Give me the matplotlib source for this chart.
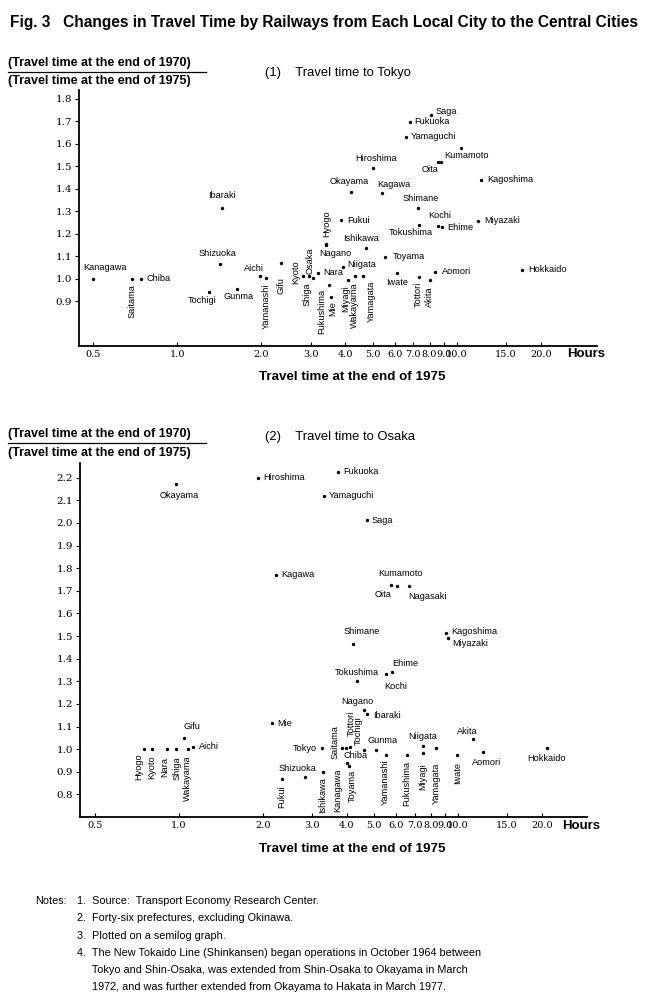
import matplotlib
matplotlib.use('Agg')
import matplotlib.pyplot as plt
from matplotlib.lines import Line2D

plt.rcParams['font.family'] = ['Liberation Sans', 'DejaVu Sans']

W, H = 650, 1002

# ===== data: (1) travel time to Tokyo =====
tokyo_names = ['Kanagawa', 'Saitama', 'Chiba', 'Ibaraki', 'Shizuoka', 'Tochigi', 'Gunma',
               'Aichi', 'Yamanashi', 'Gifu', 'Kyoto', 'Shiga', 'Osaka', 'Nara', 'Fukushima',
               'Hyogo', 'Nagano', 'Mie', 'Niigata', 'Miyagi', 'Wakayama', 'Fukui', 'Ishikawa',
               'Yamagata', 'Toyama', 'Iwate', 'Tottori', 'Akita', 'Aomori', 'Tokushima',
               'Kochi', 'Ehime', 'Shimane', 'Miyazaki', 'Hokkaido', 'Saga', 'Fukuoka',
               'Yamaguchi', 'Kumamoto', 'Oita', 'Nagasaki', 'Kagoshima', 'Kagawa',
               'Hiroshima', 'Okayama']
tokyo_hours = [0.50, 0.69, 0.74, 1.45, 1.42, 1.30, 1.63,
               1.97, 2.08, 2.36, 2.83, 2.97, 3.05, 3.20, 3.50,
               3.42, 3.42, 3.56, 3.93, 4.10, 4.31, 3.87, 4.72,
               4.64, 5.56, 6.10, 7.36, 8.00, 8.40, 7.36,
               8.60, 8.83, 7.30, 11.96, 17.2, 8.07, 6.83,
               6.60, 10.4, 8.60, 8.80, 12.2, 5.42,
               5.04, 4.20]
tokyo_ratio = [1.00, 1.00, 1.00, 1.315, 1.067, 0.94, 0.955,
               1.01, 1.005, 1.07, 1.01, 1.01, 1.005, 1.027, 0.97,
               1.155, 1.15, 0.916, 1.053, 0.996, 1.013, 1.26, 1.138,
               1.013, 1.098, 1.027, 1.009, 0.996, 1.031, 1.24,
               1.236, 1.23, 1.315, 1.258, 1.04, 1.729, 1.698,
               1.631, 1.582, 1.52, 1.52, 1.44, 1.382,
               1.493, 1.387]

# ===== data: (2) travel time to Osaka =====
osaka_names = ['Okayama', 'Hiroshima', 'Kagawa', 'Yamaguchi', 'Fukuoka', 'Saga', 'Oita',
               'Kumamoto', 'Nagasaki', 'Kagoshima', 'Miyazaki', 'Shimane', 'Tokushima',
               'Kochi', 'Ehime', 'Nagano', 'Ibaraki', 'Mie', 'Tokyo', 'Saitama', 'Chiba',
               'Tottori', 'Tochigi', 'Kanagawa', 'Toyama', 'Gunma', 'Yamanashi', 'Fukushima',
               'Niigata', 'Miyagi', 'Yamagata', 'Ishikawa', 'Shizuoka', 'Fukui', 'Iwate',
               'Akita', 'Aomori', 'Hokkaido', 'Hyogo', 'Kyoto', 'Nara', 'Shiga', 'Wakayama',
               'Aichi', 'Gifu']
osaka_hours = [0.975, 1.92, 2.23, 3.31, 3.71, 4.72, 5.75,
               6.04, 6.68, 9.06, 9.20, 4.20, 4.35,
               5.52, 5.80, 4.60, 4.72, 2.15, 3.25, 3.85, 3.97,
               4.10, 4.60, 4.00, 4.08, 5.09, 5.52, 6.56,
               7.50, 7.50, 8.35, 3.28, 2.83, 2.34, 9.95,
               11.3, 12.3, 20.8, 0.75, 0.80, 0.906, 0.975, 1.077,
               1.12, 1.04]
osaka_ratio = [2.17, 2.20, 1.77, 2.12, 2.226, 2.013, 1.726,
               1.72, 1.72, 1.513, 1.49, 1.465, 1.30,
               1.33, 1.34, 1.173, 1.155, 1.115, 1.004, 1.004, 1.006,
               1.01, 0.996, 0.938, 0.925, 0.996, 0.973, 0.973,
               1.013, 0.982, 1.004, 0.898, 0.876, 0.87, 0.973,
               1.044, 0.987, 1.004, 1.0, 1.0, 1.0, 1.0, 1.0,
               1.01, 1.05]

x_ticks = [0.5, 1.0, 2.0, 3.0, 4.0, 5.0, 6.0, 7.0, 8.0, 9.0, 10.0, 15.0, 20.0]
y_ticks_tokyo = [0.9, 1.0, 1.1, 1.2, 1.3, 1.4, 1.5, 1.6, 1.7, 1.8]
y_ticks_osaka = [0.8, 0.9, 1.0, 1.1, 1.2, 1.3, 1.4, 1.5, 1.6, 1.7, 1.8, 1.9, 2.0, 2.1, 2.2]

# label placement: name -> (dx px, dy px, ha, va, rotation)
R = 'right'; L = 'left'; C = 'center'; T = 'top'; B = 'bottom'
tokyo_lab = {
    'Kanagawa': (12, 11, C, C, 0), 'Saitama': (0, -5, C, T, 90), 'Chiba': (6, 0, L, C, 0),
    'Ibaraki': (0, 12, C, C, 0), 'Shizuoka': (-2, 10, C, C, 0), 'Tochigi': (-7, -8, C, C, 0),
    'Gunma': (2, -8, C, C, 0), 'Aichi': (-6, 8, C, C, 0), 'Yamanashi': (0, -6, C, T, 90),
    'Gifu': (0, -14, C, T, 90), 'Kyoto': (-8, 4, C, C, 90), 'Shiga': (-2, -6, C, T, 90),
    'Osaka': (-2, 4, C, B, 90), 'Nara': (5, 0, L, C, 0), 'Fukushima': (-7, -4, C, T, 90),
    'Hyogo': (0, 7, C, B, 90), 'Nagano': (9, -9, C, C, 0), 'Mie': (1, -4, C, T, 90),
    'Niigata': (4, 2, L, C, 0), 'Miyagi': (-3, -6, C, T, 90), 'Wakayama': (0, -7, C, T, 90),
    'Fukui': (6, 0, L, C, 0), 'Ishikawa': (-4, 9, C, C, 0), 'Yamagata': (8, -5, C, T, 90),
    'Toyama': (7, 0, L, C, 0), 'Iwate': (0, -10, C, C, 0), 'Tottori': (-1, -5, C, T, 90),
    'Akita': (0, -7, C, T, 90), 'Aomori': (7, 0, L, C, 0), 'Tokushima': (-9, -8, C, C, 0),
    'Kochi': (1, 10, C, C, 0), 'Ehime': (6, -1, L, C, 0), 'Shimane': (2, 9, C, C, 0),
    'Miyazaki': (6, 0, L, C, 0), 'Hokkaido': (6, 0, L, C, 0), 'Saga': (5, 3, L, C, 0),
    'Fukuoka': (4, 0, L, C, 0), 'Yamaguchi': (5, 0, L, C, 0), 'Kumamoto': (5, -8, C, C, 0),
    'Oita': (-8, -8, C, C, 0), 'Kagoshima': (6, 0, L, C, 0), 'Kagawa': (12, 8, C, C, 0),
    'Hiroshima': (3, 9, C, C, 0), 'Okayama': (-2, 10, C, C, 0),
}
osaka_lab = {
    'Okayama': (3, -11, C, C, 0), 'Hiroshima': (5, 0, L, C, 0), 'Kagawa': (5, 0, L, C, 0),
    'Yamaguchi': (5, 0, L, C, 0), 'Fukuoka': (5, 0, L, C, 0), 'Saga': (5, 0, L, C, 0),
    'Oita': (-8, -10, C, C, 0), 'Kumamoto': (4, 13, C, C, 0), 'Nagasaki': (18, -10, C, C, 0),
    'Kagoshima': (5, 2, L, C, 0), 'Miyazaki': (4, -5, L, C, 0), 'Shimane': (9, 12, C, C, 0),
    'Tokushima': (0, 9, C, C, 0), 'Kochi': (10, -12, C, C, 0), 'Ehime': (13, 9, C, C, 0),
    'Nagano': (-6, 9, C, C, 0), 'Ibaraki': (6, -1, L, C, 0), 'Mie': (6, 0, L, C, 0),
    'Tokyo': (-5, 0, R, C, 0), 'Saitama': (-7, 6, C, C, 90), 'Chiba': (10, -8, C, C, 0),
    'Tottori': (1, 11, C, B, 90), 'Tochigi': (-6, 5, C, B, 90), 'Kanagawa': (-9, -5, C, T, 90),
    'Toyama': (3, -4, C, T, 90), 'Gunma': (6, 10, C, C, 0), 'Yamanashi': (-1, -4, C, T, 90),
    'Fukushima': (0, -6, C, T, 90), 'Niigata': (0, 10, C, C, 0), 'Miyagi': (0, -10, C, T, 90),
    'Yamagata': (0, -14, C, T, 90), 'Ishikawa': (0, -5, C, T, 90), 'Shizuoka': (-8, 9, C, C, 0),
    'Fukui': (0, -7, C, T, 90), 'Iwate': (0, -7, C, T, 90), 'Akita': (-5, 8, C, C, 0),
    'Aomori': (4, -10, C, C, 0), 'Hokkaido': (0, -10, C, C, 0), 'Hyogo': (-5, -4, C, T, 90),
    'Kyoto': (0, -6, C, T, 90), 'Nara': (-2, -8, C, T, 90), 'Shiga': (1, -7, C, T, 90),
    'Wakayama': (0, -6, C, T, 90), 'Aichi': (6, 0, L, C, 0), 'Gifu': (8, 11, C, C, 0),
}

fig = plt.figure(figsize=(W / 100, H / 100), dpi=100)
fig.patch.set_facecolor('white')


def px(x, y):
    return x / W, 1 - y / H


def frac_label(y1, yline, y2):
    fig.text(*px(8, y1), '(Travel time at the end of 1970)', fontsize=9, fontweight='bold',
             ha='left', va='center')
    fig.add_artist(Line2D([8 / W, 206 / W], [1 - yline / H] * 2, color='black', lw=0.9))
    fig.text(*px(8, y2), '(Travel time at the end of 1975)', fontsize=9, fontweight='bold',
             ha='left', va='center')


def draw_panel(rect, hours, ratio, names, lab, yticks, ylim, xlim):
    ax = fig.add_axes(rect)
    ax.set_xscale('log')
    ax.scatter(hours, ratio, s=6, color='black', zorder=3, linewidths=0)
    for n, h, r in zip(names, hours, ratio):
        if n not in lab:
            continue
        dx, dy, ha, va, rot = lab[n]
        ax.annotate(n, (h, r), xytext=(dx, dy), textcoords='offset pixels',
                    ha=ha, va=va, rotation=rot, fontsize=6.6)
    ax.set_xlim(*xlim)
    ax.set_ylim(*ylim)
    ax.set_xticks(x_ticks)
    ax.set_xticklabels([f'{t:.1f}' for t in x_ticks], family='DejaVu Serif', fontsize=7.0)
    ax.xaxis.set_minor_locator(matplotlib.ticker.NullLocator())
    ax.set_yticks(yticks)
    ax.set_yticklabels([f'{t:.1f}' for t in yticks], family='DejaVu Serif', fontsize=7.5)
    ax.tick_params(axis='x', direction='in', length=3, width=0.8, pad=3)
    ax.tick_params(axis='y', direction='out', length=3, width=0.8, pad=2)
    for s in ['top', 'right']:
        ax.spines[s].set_visible(False)
    for s in ['left', 'bottom']:
        ax.spines[s].set_linewidth(1.3)
    ax.set_facecolor('none')
    return ax


fig.text(*px(324, 22), 'Fig. 3   Changes in Travel Time by Railways from Each Local City to the Central Cities',
         fontsize=11.2, fontweight='bold', ha='center', va='center')

# ----- panel (1) -----
frac_label(63, 72, 81)
fig.text(*px(265, 73), '(1)    Travel time to Tokyo', fontsize=9.4, ha='left', va='center')
draw_panel([79 / W, 1 - 346 / H, (597 - 79) / W, (346 - 90) / H],
           tokyo_hours, tokyo_ratio, tokyo_names, tokyo_lab, y_ticks_tokyo,
           (0.70, 1.84), (0.445, 31.8))
fig.text(*px(567, 354), 'Hours', fontsize=9.5, fontweight='bold', ha='left', va='center')
fig.text(*px(352, 377), 'Travel time at the end of 1975', fontsize=9.6, fontweight='bold',
         ha='center', va='center')

# ----- panel (2) -----
frac_label(434, 443, 453)
fig.text(*px(265, 437), '(2)    Travel time to Osaka', fontsize=9.4, ha='left', va='center')
draw_panel([80 / W, 1 - 817 / H, (587 - 80) / W, (817 - 463) / H],
           osaka_hours, osaka_ratio, osaka_names, osaka_lab, y_ticks_osaka,
           (0.70, 2.265), (0.442, 29.0))
fig.text(*px(562, 826), 'Hours', fontsize=9.5, fontweight='bold', ha='left', va='center')
fig.text(*px(352, 849), 'Travel time at the end of 1975', fontsize=9.6, fontweight='bold',
         ha='center', va='center')

# ----- notes -----
notes = ['1.  Source:  Transport Economy Research Center.',
         '2.  Forty-six prefectures, excluding Okinawa.',
         '3.  Plotted on a semilog graph.',
         '4.  The New Tokaido Line (Shinkansen) began operations in October 1964 between',
         '     Tokyo and Shin-Osaka, was extended from Shin-Osaka to Okayama in March',
         '     1972, and was further extended from Okayama to Hakata in March 1977.']
fig.text(*px(35, 901), 'Notes:', fontsize=7.8, ha='left', va='center')
for i, line in enumerate(notes):
    fig.text(*px(77, 901 + i * 17.3), line, fontsize=7.8, ha='left', va='center')

fig.savefig('out.png', dpi=100, facecolor='white')
